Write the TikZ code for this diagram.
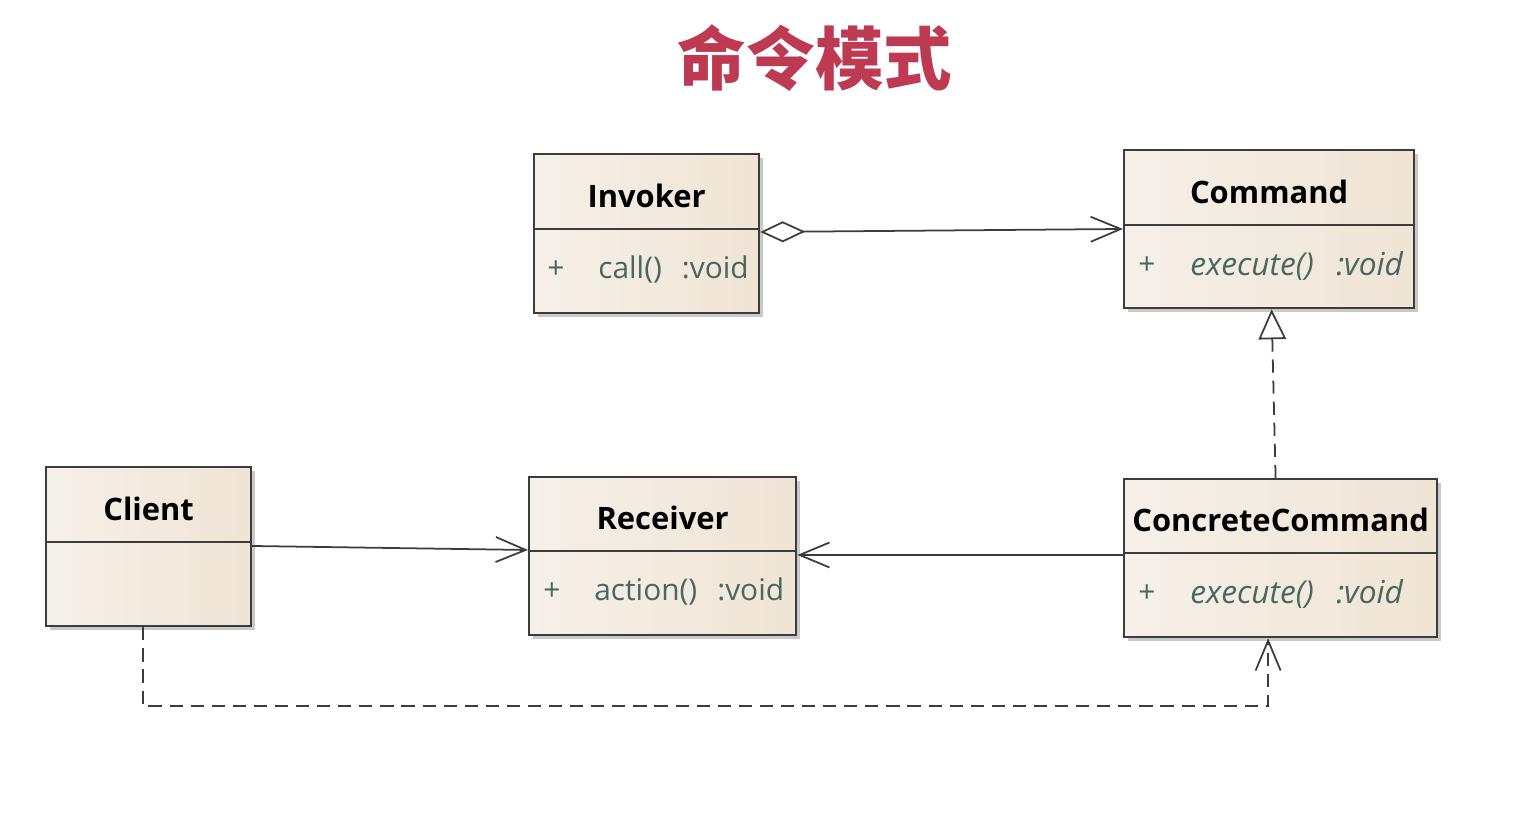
\documentclass[tikz,border=0pt]{standalone}
\usepackage{fontspec}
\setmainfont{Open Sans}
\newfontfamily\cjk{Noto Sans CJK SC}
\usetikzlibrary{arrows.meta}
\usetikzlibrary{positioning}
\usetikzlibrary{shadows}
\definecolor{boxleft}{RGB}{245,240,233}
\definecolor{boxright}{RGB}{240,228,212}
\definecolor{attrtext}{RGB}{72,104,95}
\definecolor{titlered}{RGB}{190,58,82}
\definecolor{edgegray}{RGB}{60,60,60}
\tikzset{
  classbox/.style = {draw = edgegray, line width = 1.3pt, anchor = north west,
    inner sep = 0pt, left color = boxleft, right color = boxright,
    drop shadow = {shadow xshift = 0.08cm, shadow yshift = -0.08cm,
      opacity = 0.3, fill = black!70}},
  classname/.style = {font = \bfseries\fontsize{17.6}{21}\selectfont},
  attribute/.style = {font = \fontsize{17}{20}\selectfont, text = attrtext, anchor = west, inner sep = 0pt},
  abstract/.style = {attribute, font = \itshape\fontsize{18}{21}\selectfont},
  divider/.style = {draw = edgegray, line width = 1.3pt},
  link/.style = {draw = edgegray, line width = 1pt},
  assoc/.style = {link, -{Straight Barb[length = 0.6cm, width = 0.5cm]}},
  aggregation/.style = {link, {Diamond[open, length = 0.9cm, width = 0.42cm, fill = white]}-{Straight Barb[length = 0.6cm, width = 0.5cm]}},
  realize/.style = {link, dashed, dash pattern = on 7.5pt off 4.5pt, -{Triangle[open, length = 0.6cm, width = 0.55cm, fill = white]}},
  depend/.style = {link, dashed, dash pattern = on 7.5pt off 4.5pt, -{Straight Barb[length = 0.6cm, width = 0.5cm]}},
  title/.style = {font = \cjk\bfseries\fontsize{39}{44}\selectfont, text = titlered},
}
\begin{document}
\begin{tikzpicture}[x = 0.02cm, y = -0.02cm]
  \useasboundingbox (0,0) rectangle (1526,824);
  % title
  \node [title] (title) at (815,58) {命令模式};
  % class boxes
  \node [classbox, minimum width = 4.5cm, minimum height = 3.18cm] (invoker) at (533,153) {};
  \node [classbox, minimum width = 5.8cm, minimum height = 3.16cm] (command) at (1123,149) {};
  \node [classbox, minimum width = 4.1cm, minimum height = 3.18cm] (client) at (45,466) {};
  \node [classbox, minimum width = 5.34cm, minimum height = 3.16cm] (receiver) at (528,476) {};
  \node [classbox, minimum width = 6.26cm, minimum height = 3.16cm] (cc) at (1123,478) {};
  % dividers
  \draw [divider] ([yshift = -1.52cm]invoker.north west) -- ([yshift = -1.52cm]invoker.north east);
  \draw [divider] ([yshift = -1.52cm]command.north west) -- ([yshift = -1.52cm]command.north east);
  \draw [divider] ([yshift = -1.52cm]client.north west) -- ([yshift = -1.52cm]client.north east);
  \draw [divider] ([yshift = -1.5cm]receiver.north west) -- ([yshift = -1.5cm]receiver.north east);
  \draw [divider] ([yshift = -1.5cm]cc.north west) -- ([yshift = -1.5cm]cc.north east);
  % class names
  \node [classname] (invokerName) at ([yshift = -0.86cm]invoker.north) {Invoker};
  \node [classname] (commandName) at ([yshift = -0.86cm]command.north) {Command};
  \node [classname] (clientName) at ([yshift = -0.86cm]client.north) {Client};
  \node [classname] (receiverName) at ([yshift = -0.84cm]receiver.north) {Receiver};
  \node [classname] (ccName) at ([yshift = -0.84cm]cc.north) {ConcreteCommand};
  % operations
  \node [attribute] (invokerPlus) at ([xshift = 0.28cm, yshift = -2.34cm]invoker.north west) {+};
  \node [attribute] (invokerOp) at ([xshift = 1.3cm, yshift = -2.34cm]invoker.north west) {call()\hspace{0.4cm}:void};
  \node [attribute] (commandPlus) at ([xshift = 0.3cm, yshift = -2.34cm]command.north west) {+};
  \node [abstract] (commandOp) at ([xshift = 1.34cm, yshift = -2.34cm]command.north west) {execute()\hspace{0.45cm}:void};
  \node [attribute] (receiverPlus) at ([xshift = 0.3cm, yshift = -2.32cm]receiver.north west) {+};
  \node [attribute] (receiverOp) at ([xshift = 1.32cm, yshift = -2.32cm]receiver.north west) {action()\hspace{0.4cm}:void};
  \node [attribute] (ccPlus) at ([xshift = 0.3cm, yshift = -2.32cm]cc.north west) {+};
  \node [abstract] (ccOp) at ([xshift = 1.34cm, yshift = -2.32cm]cc.north west) {execute()\hspace{0.45cm}:void};
  % edges
  \draw [aggregation] ([yshift = -1.58cm]invoker.north east) -- ([yshift = -1.6cm]command.north west);
  \draw [assoc] ([yshift = -1.6cm]client.north east) -- ([yshift = -1.48cm]receiver.north west);
  \draw [assoc] ([yshift = -1.54cm]cc.north west) -- ([yshift = -1.58cm]receiver.north east);
  \draw [realize] ([xshift = -0.1cm]cc.north) -- ([xshift = 0.05cm]command.south);
  \draw [depend] ([xshift = -0.11cm]client.south) -- ++(0,79) -| ([xshift = -0.25cm]cc.south);
\end{tikzpicture}
\end{document}
